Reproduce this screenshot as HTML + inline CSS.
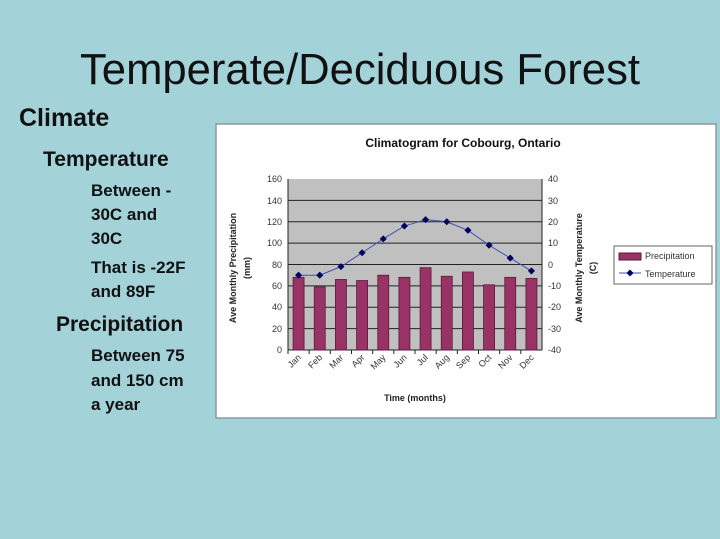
<!DOCTYPE html>
<html><head><meta charset="utf-8"><style>
html,body{margin:0;padding:0;background:#a3d3d9;}
svg{display:block;font-family:"Liberation Sans",sans-serif;}
</style></head><body>
<svg width="720" height="539" viewBox="0 0 720 539">
<rect width="720" height="539" fill="#a3d3d9"/>
<text x="80" y="84" font-size="44" textLength="560" lengthAdjust="spacingAndGlyphs" fill="#111">Temperate/Deciduous Forest</text>
<g font-weight="bold" fill="#111">
<text x="19" y="126" font-size="25">Climate</text>
<text x="43" y="166" font-size="21">Temperature</text>
<text x="91" y="196" font-size="17">Between -</text>
<text x="91" y="220" font-size="17">30C and</text>
<text x="91" y="244" font-size="17">30C</text>
<text x="91" y="273" font-size="17">That is -22F</text>
<text x="91" y="297" font-size="17">and 89F</text>
<text x="56" y="331" font-size="21">Precipitation</text>
<text x="91" y="361" font-size="17">Between 75</text>
<text x="91" y="386" font-size="17">and 150 cm</text>
<text x="91" y="410" font-size="17">a year</text>
</g>
<rect x="216" y="124" width="500" height="294" fill="#fff" stroke="#8a9a9c" stroke-width="1.5"/>
<text x="463" y="147" font-size="12" font-weight="bold" text-anchor="middle" fill="#111">Climatogram for Cobourg, Ontario</text>
<rect x="288" y="179" width="254" height="171" fill="#c0c0c0"/>
<g stroke="#222" stroke-width="1">
<line x1="288" y1="200.4" x2="542" y2="200.4"/><line x1="288" y1="221.8" x2="542" y2="221.8"/>
<line x1="288" y1="243.1" x2="542" y2="243.1"/><line x1="288" y1="264.5" x2="542" y2="264.5"/>
<line x1="288" y1="285.9" x2="542" y2="285.9"/><line x1="288" y1="307.3" x2="542" y2="307.3"/>
<line x1="288" y1="328.6" x2="542" y2="328.6"/>
<line x1="288" y1="179" x2="288" y2="350"/><line x1="542" y1="179" x2="542" y2="350"/>
<line x1="288" y1="350" x2="542" y2="350"/>
</g>
<g fill="#993366" stroke="#5a1a3a" stroke-width="0.8" id="bars"></g>
<g font-size="9" fill="#333" text-anchor="end">
<text x="282" y="182">160</text><text x="282" y="204">140</text><text x="282" y="225">120</text>
<text x="282" y="246">100</text><text x="282" y="268">80</text><text x="282" y="289">60</text>
<text x="282" y="310">40</text><text x="282" y="332">20</text><text x="282" y="353">0</text>
</g>
<g font-size="9" fill="#333" text-anchor="start">
<text x="548" y="182">40</text><text x="548" y="204">30</text><text x="548" y="225">20</text>
<text x="548" y="246">10</text><text x="548" y="268">0</text><text x="548" y="289">-10</text>
<text x="548" y="310">-20</text><text x="548" y="332">-30</text><text x="548" y="353">-40</text>
</g>
<text transform="translate(236,268) rotate(-90)" font-size="9" font-weight="bold" text-anchor="middle" fill="#222">Ave Monthly Precipitation</text>
<text transform="translate(250,268) rotate(-90)" font-size="9" font-weight="bold" text-anchor="middle" fill="#222">(mm)</text>
<text transform="translate(582,268) rotate(-90)" font-size="9" font-weight="bold" text-anchor="middle" fill="#222">Ave Monthly Temperature</text>
<text transform="translate(596,268) rotate(-90)" font-size="9" font-weight="bold" text-anchor="middle" fill="#222">(C)</text>
<text x="415" y="401" font-size="9" font-weight="bold" text-anchor="middle" fill="#222">Time (months)</text>
<g id="months" font-size="9" fill="#333"></g>
<polyline id="temp" fill="none" stroke="#4050b0" stroke-width="1"/>
<g id="marks" fill="#000060"></g>
<rect x="614" y="246" width="98" height="38" fill="#fff" stroke="#666"/>
<rect x="619" y="253" width="22" height="7" fill="#993366" stroke="#5a1a3a"/>
<text x="645" y="259" font-size="9" fill="#333">Precipitation</text>
<line x1="619" y1="273" x2="641" y2="273" stroke="#4050b0"/>
<rect x="627.5" y="270.5" width="5" height="5" fill="#000060" transform="rotate(45 630 273)"/>
<text x="645" y="277" font-size="9" fill="#333">Temperature</text>
<script>
var P=[68,59,66,65,70,68,77,69,73,61,68,67],T=[-5,-5,-1,5.5,12,18,21,20,16,9,3,-3];
var M=["Jan","Feb","Mar","Apr","May","Jun","Jul","Aug","Sep","Oct","Nov","Dec"];
var ns="http://www.w3.org/2000/svg",w=254/12,pts=[];
for(var i=0;i<12;i++){var cx=288+w*(i+0.5);
var r=document.createElementNS(ns,"rect");var h=P[i]*171/160;
r.setAttribute("x",cx-5.5);r.setAttribute("y",350-h);r.setAttribute("width",11);r.setAttribute("height",h);
document.getElementById("bars").appendChild(r);
var y=350-(T[i]+40)*171/80;pts.push(cx+","+y);
var m=document.createElementNS(ns,"rect");m.setAttribute("x",cx-2.5);m.setAttribute("y",y-2.5);m.setAttribute("width",5);m.setAttribute("height",5);m.setAttribute("transform","rotate(45 "+cx+" "+y+")");
document.getElementById("marks").appendChild(m);
var t=document.createElementNS(ns,"text");t.setAttribute("text-anchor","end");t.setAttribute("transform","translate("+(cx+3)+",358) rotate(-45)");t.textContent=M[i];
document.getElementById("months").appendChild(t);
var k=document.createElementNS(ns,"line");k.setAttribute("x1",288+w*i);k.setAttribute("x2",288+w*i);k.setAttribute("y1",350);k.setAttribute("y2",354);k.setAttribute("stroke","#222");
document.getElementById("months").appendChild(k);}
document.getElementById("temp").setAttribute("points",pts.join(" "));
</script>
</svg>
</body></html>
